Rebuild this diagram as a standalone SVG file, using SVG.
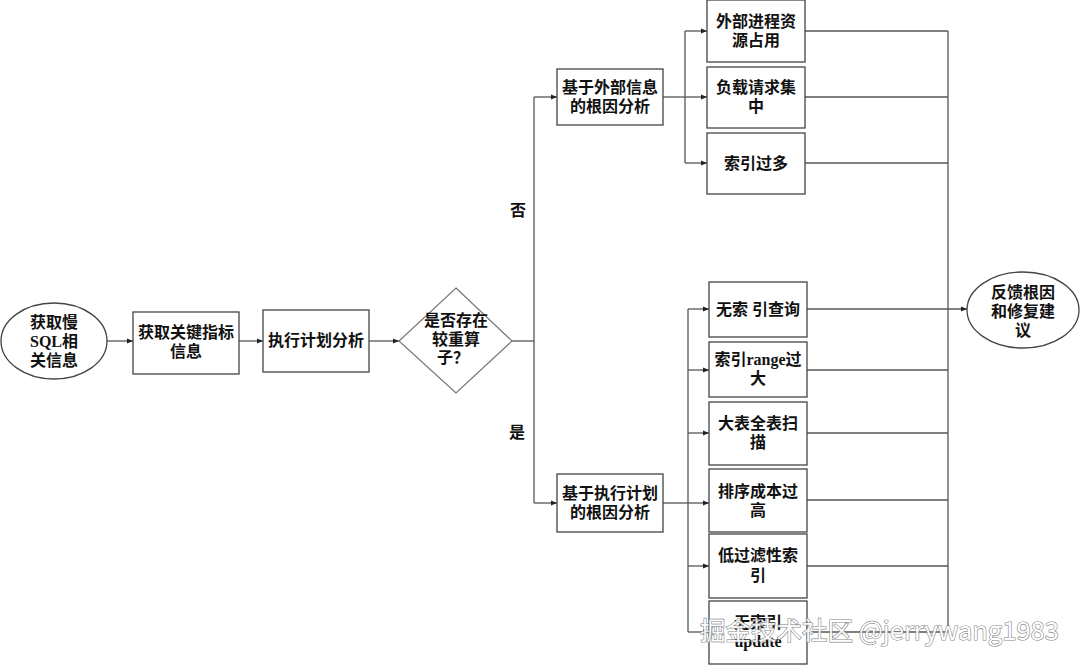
<svg xmlns="http://www.w3.org/2000/svg" width="1080" height="665" viewBox="0 0 1080 665">
<defs>
<marker id="ah" viewBox="0 0 10 10" refX="10" refY="5" markerWidth="6" markerHeight="6" markerUnits="userSpaceOnUse" orient="auto">
<path d="M0,1 L10,5 L0,9 z" fill="#222"/>
</marker>
<style>
.n{fill:#fff;stroke:#444;stroke-width:1.3}
.d{fill:#fff;stroke:#777;stroke-width:1.2}
.t{font-family:"Liberation Serif","Noto Sans CJK SC",serif;font-size:16px;font-weight:bold;fill:#111;text-anchor:middle;dominant-baseline:central}
.l{fill:none;stroke:#555;stroke-width:1.3}
.a{fill:none;stroke:#555;stroke-width:1.3;marker-end:url(#ah)}
.w{font-family:"Noto Sans CJK SC","Noto Sans",sans-serif;font-size:25.5px;fill:#fff;stroke:#777;stroke-width:1.2;paint-order:stroke;opacity:0.9}
</style>
</defs>
<rect width="1080" height="665" fill="#fff"/>
<g id="connectors">
<path class="a" d="M107,341 H133"/>
<path class="a" d="M239,341 H263"/>
<path class="a" d="M369,341 H399"/>
<path class="l" d="M512,341 H534"/>
<path class="l" d="M534,97 V503"/>
<path class="a" d="M534,97 H557"/>
<path class="a" d="M534,503 H557"/>
<path class="l" d="M663,97 H685"/>
<path class="l" d="M685,31 V163"/>
<path class="a" d="M685,31 H707"/>
<path class="a" d="M685,97 H707"/>
<path class="a" d="M685,163 H707"/>
<path class="l" d="M663,503 H688"/>
<path class="l" d="M688,309 V632"/>
<path class="a" d="M688,309 H709"/>
<path class="a" d="M688,370 H709"/>
<path class="a" d="M688,433 H709"/>
<path class="a" d="M688,503 H709"/>
<path class="a" d="M688,566 H709"/>
<path class="a" d="M688,632 H709"/>
<path class="l" d="M805,31 H948 M805,97 H948 M805,163 H948"/>
<path class="l" d="M807,370 H948 M807,433 H948 M807,500 H948 M807,566 H948 M807,632 H948"/>
<path class="l" d="M948,31 V632"/>
<path class="a" d="M807,309 H967"/>
<text class="t" x="518" y="210">否</text>
<text class="t" x="517" y="432">是</text>
</g>
<g id="n1">
<ellipse class="n" cx="54" cy="341" rx="53" ry="38"/>
<text class="t" x="54" y="322">获取慢</text>
<text class="t" x="54" y="341">SQL相</text>
<text class="t" x="54" y="360">关信息</text>
</g>
<g id="n2">
<rect class="n" x="133" y="312" width="106" height="62"/>
<text class="t" x="186" y="332">获取关键指标</text>
<text class="t" x="186" y="351">信息</text>
</g>
<g id="n3">
<rect class="n" x="263" y="310" width="106" height="62"/>
<text class="t" x="316" y="340">执行计划分析</text>
</g>
<g id="n4">
<polygon class="d" points="456,288 512,341 456,393 399,341"/>
<text class="t" x="456" y="320">是否存在</text>
<text class="t" x="456" y="339">较重算</text>
<text class="t" x="453" y="357">子？</text>
</g>
<g id="n5">
<rect class="n" x="557" y="69" width="106" height="56"/>
<text class="t" x="610" y="87">基于外部信息</text>
<text class="t" x="610" y="106">的根因分析</text>
</g>
<g id="n6">
<rect class="n" x="557" y="474" width="106" height="58"/>
<text class="t" x="610" y="493">基于执行计划</text>
<text class="t" x="610" y="512">的根因分析</text>
</g>
<g id="n7">
<rect class="n" x="707" y="0" width="98" height="62"/>
<text class="t" x="756" y="21">外部进程资</text>
<text class="t" x="756" y="40">源占用</text>
</g>
<g id="n8">
<rect class="n" x="707" y="67" width="98" height="61"/>
<text class="t" x="756" y="87">负载请求集</text>
<text class="t" x="756" y="106">中</text>
</g>
<g id="n9">
<rect class="n" x="707" y="133" width="98" height="61"/>
<text class="t" x="756" y="163">索引过多</text>
</g>
<g id="n10">
<rect class="n" x="709" y="282" width="98" height="55"/>
<text class="t" x="758" y="309">无索 引查询</text>
</g>
<g id="n11">
<rect class="n" x="709" y="342" width="98" height="55"/>
<text class="t" x="758" y="359">索引range过</text>
<text class="t" x="758" y="378">大</text>
</g>
<g id="n12">
<rect class="n" x="709" y="402" width="98" height="63"/>
<text class="t" x="758" y="423">大表全表扫</text>
<text class="t" x="758" y="442">描</text>
</g>
<g id="n13">
<rect class="n" x="709" y="469" width="98" height="63"/>
<text class="t" x="758" y="491">排序成本过</text>
<text class="t" x="758" y="510">高</text>
</g>
<g id="n14">
<rect class="n" x="709" y="534" width="98" height="64"/>
<text class="t" x="758" y="555">低过滤性索</text>
<text class="t" x="758" y="575">引</text>
</g>
<g id="n15">
<rect class="n" x="709" y="601" width="98" height="63"/>
<text class="t" x="758" y="622">无索引</text>
<text class="t" x="758" y="641">update</text>
</g>
<g id="n16">
<ellipse class="n" cx="1023" cy="310" rx="56" ry="38"/>
<text class="t" x="1023" y="292">反馈根因</text>
<text class="t" x="1023" y="311">和修复建</text>
<text class="t" x="1023" y="330">议</text>
</g>
<text class="w" x="700" y="640">掘金技术社区 @jerrywang1983</text>
</svg>
